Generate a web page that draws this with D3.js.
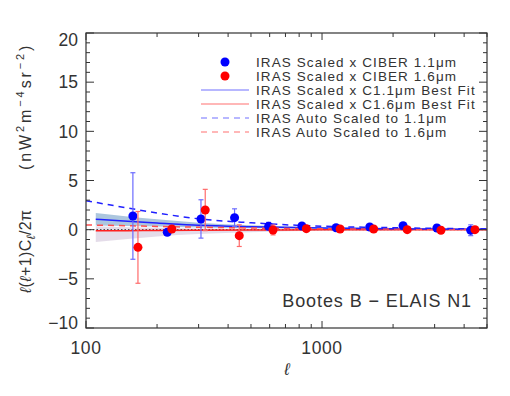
<!DOCTYPE html>
<html>
<head>
<script src="https://unpkg.com/d3@7/dist/d3.min.js"></script>
<style>body{margin:0;background:#fff}</style>
</head>
<body>
<svg width="510" height="396"></svg>
<script>
// cross-power data points (blue = 1.1um, red = 1.6um)
const ellBlue = [158, 221, 307, 426, 594, 822, 1147, 1593, 2205, 3067, 4266];
const valBlue = [1.39, -0.27, 1.09, 1.22, 0.34, 0.37, 0.2, 0.27, 0.41, 0.17, -0.06];
const errBlue = [4.4, 0.3, 1.95, 0.9, 0.4, 0.2, 0.2, 0.2, 0.3, 0.35, 0.55];
const ellRed = [166, 231, 320, 446, 620, 858, 1193, 1655, 2296, 3190, 4446];
const valRed = [-1.8, 0.07, 2.0, -0.61, -0.03, 0.1, 0.07, 0.07, 0.0, -0.06, 0.0];
const errRed = [3.65, 0.3, 2.1, 1.1, 0.5, 0.2, 0.15, 0.15, 0.2, 0.2, 0.3];

// IRAS auto spectra scaled
const ellAuto = [100, 150, 200, 300, 500, 700, 1000, 1500, 2000, 3000, 5000];
const autoBlue = [2.95, 2.2, 1.7, 1.1, 0.7, 0.5, 0.35, 0.25, 0.2, 0.13, 0.08];
const autoRed = [0.48, 0.4, 0.33, 0.25, 0.17, 0.13, 0.1, 0.07, 0.06, 0.04, 0.03];

// best fits and their bands
const ellFit = [110, 150, 200, 300, 500, 1000, 2000, 5000];
const fitBlue = [1.06, 0.85, 0.68, 0.45, 0.3, 0.17, 0.1, 0.05];
const fitBlueHi = [1.7, 1.35, 1.05, 0.7, 0.45, 0.25, 0.15, 0.08];
const fitBlueLo = [0.42, 0.38, 0.32, 0.22, 0.15, 0.1, 0.06, 0.03];
const fitRed = [-0.12, -0.1, -0.08, -0.06, -0.04, -0.02, -0.01, -0.01];
const fitRedHi = [0.35, 0.25, 0.2, 0.12, 0.07, 0.04, 0.02, 0.01];
const fitRedLo = [-1.25, -0.95, -0.7, -0.45, -0.25, -0.12, -0.06, -0.03];

const xMajor = [100, 1000];
const xMinor = [200, 300, 400, 500, 600, 700, 800, 900, 2000, 3000, 4000, 5000];
const yMajor = [-10, -5, 0, 5, 10, 15, 20];
const yMinor = [-9, -8, -7, -6, -4, -3, -2, -1, 1, 2, 3, 4, 6, 7, 8, 9, 11, 12, 13, 14, 16, 17, 18, 19];

const legendItems = [
    {label: 'IRAS Scaled x CIBER 1.1', kind: 'dot', color: '#0000ff'},
    {label: 'IRAS Scaled x CIBER 1.6', kind: 'dot', color: '#ff0000'},
    {label: 'IRAS Scaled x C1.1', tail: ' Best Fit', kind: 'line', color: '#7070ff'},
    {label: 'IRAS Scaled x C1.6', tail: ' Best Fit', kind: 'line', color: '#ff7070'},
    {label: 'IRAS Auto Scaled to 1.1', kind: 'dash', color: '#7070ff'},
    {label: 'IRAS Auto Scaled to 1.6', kind: 'dash', color: '#ff7070'}
];

const mLeft = 86, mRight = 487, mTop = 33, mBottom = 328;
const font = '"Liberation Sans", Arial, sans-serif';
const ink = '#333';

const svg = d3.select('svg');
const x = d3.scaleLog().domain([100, 5000]).range([mLeft, mRight]);
const y = d3.scaleLinear().domain([-10, 20]).range([mBottom, mTop]);

const plot = svg.append('g');

// bands
const band = (lo, hi) => d3.area()
    .x((d, i) => x(ellFit[i]))
    .y0((d, i) => y(lo[i]))
    .y1((d, i) => y(hi[i]))
    .curve(d3.curveMonotoneX)(ellFit);

plot.append('path').attr('d', band(fitRedLo, fitRedHi))
    .attr('fill', '#d8cde0').attr('opacity', 0.7);
plot.append('path').attr('d', band(fitBlueLo, fitBlueHi))
    .attr('fill', '#7fa8cc').attr('opacity', 0.65);

// zero line
plot.append('line')
    .attr('x1', mLeft).attr('x2', mRight)
    .attr('y1', y(0)).attr('y2', y(0))
    .attr('stroke', ink).attr('stroke-dasharray', '1.5,2');

const line = (xs, ys) => d3.line()
    .x((d, i) => x(xs[i]))
    .y((d, i) => y(ys[i]))
    .curve(d3.curveMonotoneX)(ys);

plot.append('path').attr('d', line(ellFit, fitRed))
    .attr('fill', 'none').attr('stroke', '#ff2020').attr('stroke-width', 1.5);
plot.append('path').attr('d', line(ellFit, fitBlue))
    .attr('fill', 'none').attr('stroke', '#2020ff').attr('stroke-width', 1.5);
plot.append('path').attr('d', line(ellAuto, autoRed))
    .attr('fill', 'none').attr('stroke', '#ff5050').attr('stroke-width', 1.5)
    .attr('stroke-dasharray', '6,5');
plot.append('path').attr('d', line(ellAuto, autoBlue))
    .attr('fill', 'none').attr('stroke', '#2020ff').attr('stroke-width', 1.5)
    .attr('stroke-dasharray', '6,5');

// points with error bars
function drawPoints(ells, vals, errs, barColor, dotColor) {
    const g = plot.append('g');
    ells.forEach((l, i) => {
        const cx = x(l);
        const y1 = y(vals[i] + errs[i]), y2 = y(vals[i] - errs[i]);
        g.append('line').attr('x1', cx).attr('x2', cx).attr('y1', y1).attr('y2', y2)
            .attr('stroke', barColor).attr('stroke-width', 1.2);
        [y1, y2].forEach(yy => g.append('line')
            .attr('x1', cx - 2.5).attr('x2', cx + 2.5).attr('y1', yy).attr('y2', yy)
            .attr('stroke', barColor).attr('stroke-width', 1.2));
        g.append('circle').attr('cx', cx).attr('cy', y(vals[i])).attr('r', 4.5)
            .attr('fill', dotColor);
    });
}
drawPoints(ellBlue, valBlue, errBlue, '#6b6bff', '#0000ff');
drawPoints(ellRed, valRed, errRed, '#ff6b6b', '#ff0000');

// frame and ticks
const axes = svg.append('g').attr('stroke', ink).attr('stroke-width', 1);
axes.append('rect').attr('x', mLeft).attr('y', mTop)
    .attr('width', mRight - mLeft).attr('height', mBottom - mTop)
    .attr('fill', 'none').attr('stroke-width', 1.2);

yMajor.concat(yMinor).forEach(v => {
    const len = yMajor.includes(v) ? 8 : 4;
    axes.append('line').attr('x1', mLeft).attr('x2', mLeft + len).attr('y1', y(v)).attr('y2', y(v));
    axes.append('line').attr('x1', mRight).attr('x2', mRight - len).attr('y1', y(v)).attr('y2', y(v));
});
xMajor.concat(xMinor).forEach(v => {
    const len = xMajor.includes(v) ? 7 : 4;
    axes.append('line').attr('x1', x(v)).attr('x2', x(v)).attr('y1', mBottom).attr('y2', mBottom - len);
    axes.append('line').attr('x1', x(v)).attr('x2', x(v)).attr('y1', mTop).attr('y2', mTop + len);
});

const labels = svg.append('g').attr('font-family', font).attr('fill', ink);
yMajor.forEach(v => {
    const yy = Math.min(Math.max(y(v), mTop + 6.5), mBottom - 5.5);
    labels.append('text').attr('x', 78).attr('y', yy).attr('dy', '0.36em')
        .attr('text-anchor', 'end').attr('font-size', 17.5)
        .text(v < 0 ? '\u2212' + Math.abs(v) : v);
});
xMajor.forEach(v => {
    labels.append('text').attr('x', x(v)).attr('y', 354)
        .attr('text-anchor', 'middle').attr('font-size', 17.5).attr('letter-spacing', 0.6)
        .text(v);
});
labels.append('text').attr('x', 287).attr('y', 375).attr('text-anchor', 'middle')
    .attr('font-size', 17).attr('font-style', 'italic').text('\u2113');

// y axis title, in two pieces
const ylA = labels.append('text')
    .attr('transform', 'translate(31,293) rotate(-90)')
    .attr('font-size', 16).attr('letter-spacing', 0.4);
ylA.append('tspan').attr('font-style', 'italic').text('\u2113');
ylA.append('tspan').text('(');
ylA.append('tspan').attr('font-style', 'italic').text('\u2113');
ylA.append('tspan').text('+1)C');
ylA.append('tspan').attr('font-style', 'italic').attr('font-size', 12).attr('dy', 4).text('\u2113');
ylA.append('tspan').attr('dy', -4).text('/2\u03c0');

const ylB = labels.append('text')
    .attr('transform', 'translate(31,170) rotate(-90)')
    .attr('font-size', 16).attr('letter-spacing', 2.9);
ylB.append('tspan').text('(nW');
ylB.append('tspan').attr('font-size', 11).attr('dy', -7).text('2');
ylB.append('tspan').attr('dy', 7).text('m');
ylB.append('tspan').attr('font-size', 11).attr('dy', -7).text('\u22124');
ylB.append('tspan').attr('dy', 7).text('sr');
ylB.append('tspan').attr('font-size', 11).attr('dy', -7).text('\u22122');
ylB.append('tspan').attr('dy', 7).text(')');

labels.append('text').attr('x', 472).attr('y', 307).attr('text-anchor', 'end')
    .attr('font-size', 18).attr('letter-spacing', 0.9).text('Bootes B \u2212 ELAIS N1');

// legend
const legend = svg.append('g').attr('font-family', font).attr('fill', ink);
legendItems.forEach((d, i) => {
    const ly = 62 + i * 14;
    if (d.kind === 'dot') {
        legend.append('circle').attr('cx', 225).attr('cy', ly).attr('r', 4.5).attr('fill', d.color);
    } else {
        legend.append('line').attr('x1', 201).attr('x2', 249).attr('y1', ly).attr('y2', ly)
            .attr('stroke', d.color).attr('stroke-width', 1.2)
            .attr('stroke-dasharray', d.kind === 'dash' ? '6,5' : null);
    }
    const t = legend.append('text').attr('x', 256).attr('y', ly + 5)
        .attr('font-size', 13.5).attr('letter-spacing', 1.1);
    t.append('tspan').text(d.label);
    t.append('tspan').text('\u03bcm');
    if (d.tail) t.append('tspan').text(d.tail);
});
</script>
</body>
</html>
